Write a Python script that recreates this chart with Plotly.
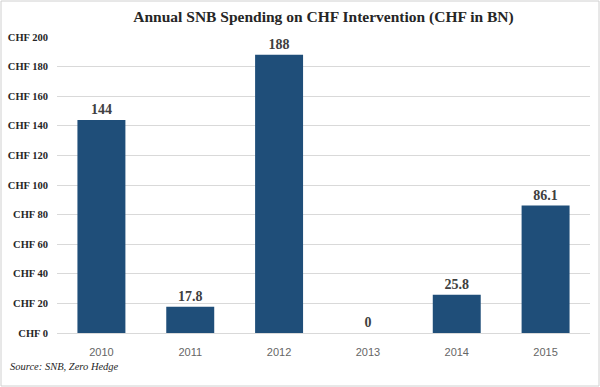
import plotly.graph_objects as go

years = ["2010", "2011", "2012", "2013", "2014", "2015"]
values = [144, 17.8, 188, 0, 25.8, 86.1]
labels = ["144", "17.8", "188", "0", "25.8", "86.1"]
tick_vals = [0, 20, 40, 60, 80, 100, 120, 140, 160, 180, 200]
tick_text = ["CHF " + str(v) for v in tick_vals]

W, H = 600, 387
ml, mr, mt, mb = 57, 10, 37, 54
pw, ph = W - ml - mr, H - mt - mb

fig = go.Figure(go.Bar(
    x=years, y=values, marker_color="#1F4E79", marker_line_width=0,
    text=labels, textposition="outside", cliponaxis=False,
    textfont=dict(family="Liberation Serif", size=14, color="#404040"),
    texttemplate="<b>%{text}</b>",
))

fig.update_layout(
    width=W, height=H, margin=dict(l=ml, r=mr, t=mt, b=mb, autoexpand=False),
    paper_bgcolor="white", plot_bgcolor="white", bargap=0.46,
    showlegend=False,
    title=dict(text="<b>Annual SNB Spending on CHF Intervention (CHF in BN)</b>",
               x=0.5, xanchor="center", xref="paper", y=0.97, yanchor="top",
               font=dict(family="Liberation Serif", size=15.5, color="#262626")),
    yaxis=dict(range=[0, 200], tickvals=tick_vals, ticktext=["<b>" + t + "</b>" for t in tick_text],
               showgrid=True, gridcolor="#D9D9D9", gridwidth=1, zeroline=False,
               tickfont=dict(family="Liberation Serif", size=10.5, color="#262626"),
               ticks="", ticklabelstandoff=8, automargin=False),
    xaxis=dict(showline=True, linecolor="#D9D9D9", ticks="", automargin=False,
               tickfont=dict(family="Liberation Sans", size=11, color="#666666"),
               ticklabelstandoff=9),
    annotations=[dict(text="<i>Source: SNB, Zero Hedge</i>", xref="paper", yref="paper",
                      x=-(ml - 8) / pw, y=-(366 - (mt + ph)) / ph, xanchor="left", yanchor="middle",
                      showarrow=False, font=dict(family="Liberation Serif", size=10.5, color="#262626"))],
    shapes=[dict(type="rect", xref="paper", yref="paper",
                 x0=-(ml - 1) / pw, x1=1 + (mr - 1) / pw,
                 y0=-(mb - 1) / ph, y1=1 + (mt - 1) / ph,
                 line=dict(color="#D0D0D0", width=1))],
)

fig.write_html("out.html", config={"displayModeBar": False},
               post_script="document.body.style.margin='0';")
